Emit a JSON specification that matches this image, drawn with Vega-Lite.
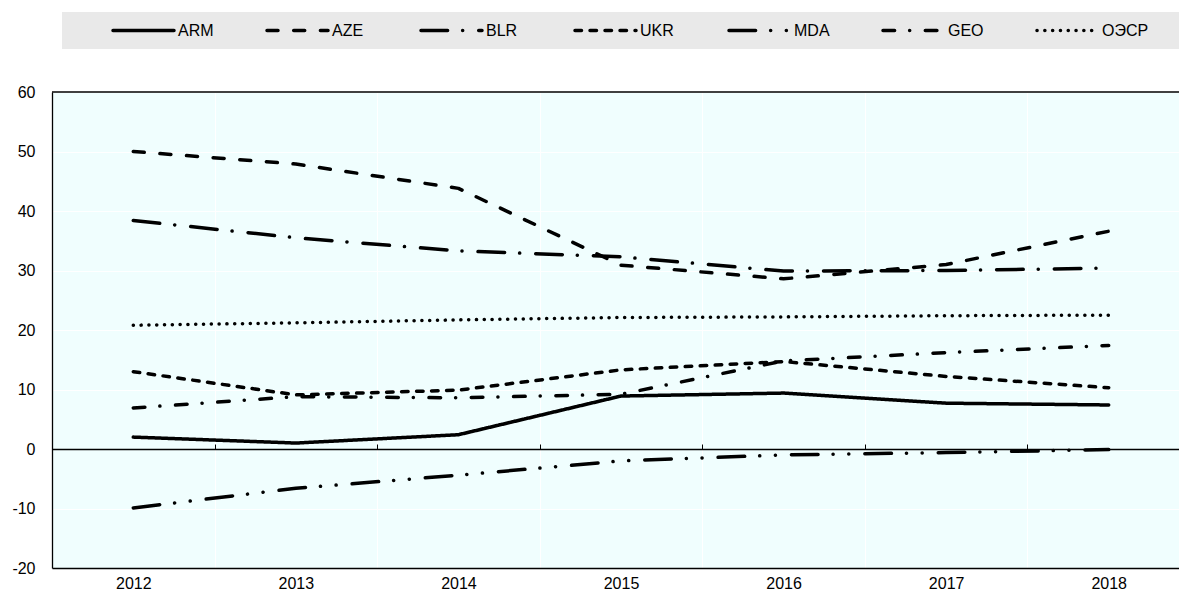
{
  "$schema": "https://vega.github.io/schema/vega-lite/v6.json",
  "autosize": {"type": "none"},
  "padding": {"left": 52, "top": 92, "right": 0, "bottom": 26},
  "width": 1127,
  "height": 476,
  "config": {
    "font": "Liberation Sans Narrow, Arial Narrow, Liberation Sans",
    "view": {"fill": "#f0fefe", "stroke": null},
    "axis": {"labelColor": "#000000", "titleColor": "#000000"}
  },
  "data": {"values": [
    {"year": "2012", "country": "ARM", "value": 2.0},
    {"year": "2013", "country": "ARM", "value": 1.0},
    {"year": "2014", "country": "ARM", "value": 2.4},
    {"year": "2015", "country": "ARM", "value": 8.9},
    {"year": "2016", "country": "ARM", "value": 9.4},
    {"year": "2017", "country": "ARM", "value": 7.7},
    {"year": "2018", "country": "ARM", "value": 7.4},
    {"year": "2012", "country": "AZE", "value": 50.0},
    {"year": "2013", "country": "AZE", "value": 47.9},
    {"year": "2014", "country": "AZE", "value": 43.8},
    {"year": "2015", "country": "AZE", "value": 30.9},
    {"year": "2016", "country": "AZE", "value": 28.6},
    {"year": "2017", "country": "AZE", "value": 31.0},
    {"year": "2018", "country": "AZE", "value": 36.6},
    {"year": "2012", "country": "BLR", "value": 38.4},
    {"year": "2013", "country": "BLR", "value": 35.5},
    {"year": "2014", "country": "BLR", "value": 33.3},
    {"year": "2015", "country": "BLR", "value": 32.3},
    {"year": "2016", "country": "BLR", "value": 29.9},
    {"year": "2017", "country": "BLR", "value": 30.0},
    {"year": "2018", "country": "BLR", "value": 30.4},
    {"year": "2012", "country": "UKR", "value": 13.0},
    {"year": "2013", "country": "UKR", "value": 9.1},
    {"year": "2014", "country": "UKR", "value": 9.9},
    {"year": "2015", "country": "UKR", "value": 13.3},
    {"year": "2016", "country": "UKR", "value": 14.7},
    {"year": "2017", "country": "UKR", "value": 12.2},
    {"year": "2018", "country": "UKR", "value": 10.3},
    {"year": "2012", "country": "MDA", "value": -9.9},
    {"year": "2013", "country": "MDA", "value": -6.6},
    {"year": "2014", "country": "MDA", "value": -4.4},
    {"year": "2015", "country": "MDA", "value": -2.0},
    {"year": "2016", "country": "MDA", "value": -1.0},
    {"year": "2017", "country": "MDA", "value": -0.6},
    {"year": "2018", "country": "MDA", "value": -0.1},
    {"year": "2012", "country": "GEO", "value": 6.9},
    {"year": "2013", "country": "GEO", "value": 8.8},
    {"year": "2014", "country": "GEO", "value": 8.6},
    {"year": "2015", "country": "GEO", "value": 9.2},
    {"year": "2016", "country": "GEO", "value": 14.8},
    {"year": "2017", "country": "GEO", "value": 16.2},
    {"year": "2018", "country": "GEO", "value": 17.4},
    {"year": "2012", "country": "ОЭСР", "value": 20.8},
    {"year": "2013", "country": "ОЭСР", "value": 21.2},
    {"year": "2014", "country": "ОЭСР", "value": 21.7},
    {"year": "2015", "country": "ОЭСР", "value": 22.1},
    {"year": "2016", "country": "ОЭСР", "value": 22.2},
    {"year": "2017", "country": "ОЭСР", "value": 22.4},
    {"year": "2018", "country": "ОЭСР", "value": 22.5}
  ]},
  "resolve": {"axis": {"x": "independent"}},
  "layer": [
    {
      "mark": {"type": "point", "opacity": 0},
      "encoding": {
        "x": {
          "field": "year", "type": "ordinal",
          "scale": {"type": "band", "paddingInner": 0, "paddingOuter": 0, "range": [0, 1138]},
          "axis": {
            "orient": "top", "offset": -357, "title": null, "labels": false, "grid": false,
            "ticks": true, "tickSize": 5, "tickColor": "#000000", "tickWidth": 1, "tickBand": "extent",
            "domain": true, "domainColor": "#000000", "domainWidth": 1.3
          }
        }
      }
    },
    {
      "data": {"values": [{"v": 60}]},
      "mark": {"type": "rule", "color": "#000000", "strokeWidth": 1.3},
      "encoding": {"y": {"field": "v", "type": "quantitative"}}
    },
    {
      "mark": {"type": "line", "strokeWidth": 3.5, "strokeCap": "round", "strokeJoin": "round", "color": "#000000", "interpolate": "linear"},
      "encoding": {
        "x": {
          "field": "year", "type": "ordinal",
          "scale": {"type": "band", "paddingInner": 0, "paddingOuter": 0, "range": [0, 1138]},
          "axis": {
            "orient": "bottom", "title": null, "labelAngle": 0, "labelFontSize": 16, "labelPadding": 7,
            "ticks": false, "tickBand": "extent", "grid": true, "gridColor": "#ffffff", "gridWidth": 1,
            "domain": true, "domainColor": "#000000", "domainWidth": 1.3
          }
        },
        "y": {
          "field": "value", "type": "quantitative",
          "scale": {"domain": [-20, 60], "nice": false, "zero": false},
          "axis": {
            "title": null, "values": [-20, -10, 0, 10, 20, 30, 40, 50, 60],
            "labelExpr": "'' + datum.value", "labelFontSize": 16, "labelPadding": 17,
            "ticks": false, "grid": true, "gridColor": "#ffffff", "gridWidth": 1,
            "domain": true, "domainColor": "#000000", "domainWidth": 1.3
          }
        },
        "strokeDash": {
          "field": "country", "type": "nominal",
          "scale": {
            "domain": ["ARM", "AZE", "BLR", "UKR", "MDA", "GEO", "ОЭСР"],
            "range": [[1, 0], [11, 15.7], [26.6, 15, 0.1, 16], [6.5, 8.5], [26.6, 15, 0.1, 15.6, 0.1, 16], [11.6, 15, 0.1, 15.6], [0.1, 7.7]]
          },
          "legend": {
            "orient": "none", "legendX": 10, "legendY": -80,
            "title": " ", "titleOrient": "right", "titlePadding": 34,
            "direction": "horizontal", "columns": 7, "gridAlign": "all",
            "symbolType": "stroke", "symbolSize": 3721, "symbolStrokeWidth": 3.5,
            "symbolStrokeColor": "#000000", "symbolOffset": 40, "columnPadding": 0,
            "clipHeight": 19,
            "labelFontSize": 16, "labelColor": "#000000", "labelOffset": 2, "labelBaseline": "middle",
            "fillColor": "#e9e9e9", "padding": 9,
            "encode": {"symbols": {"update": {"strokeCap": {"value": "round"}}}}
          }
        }
      }
    }
  ]
}
